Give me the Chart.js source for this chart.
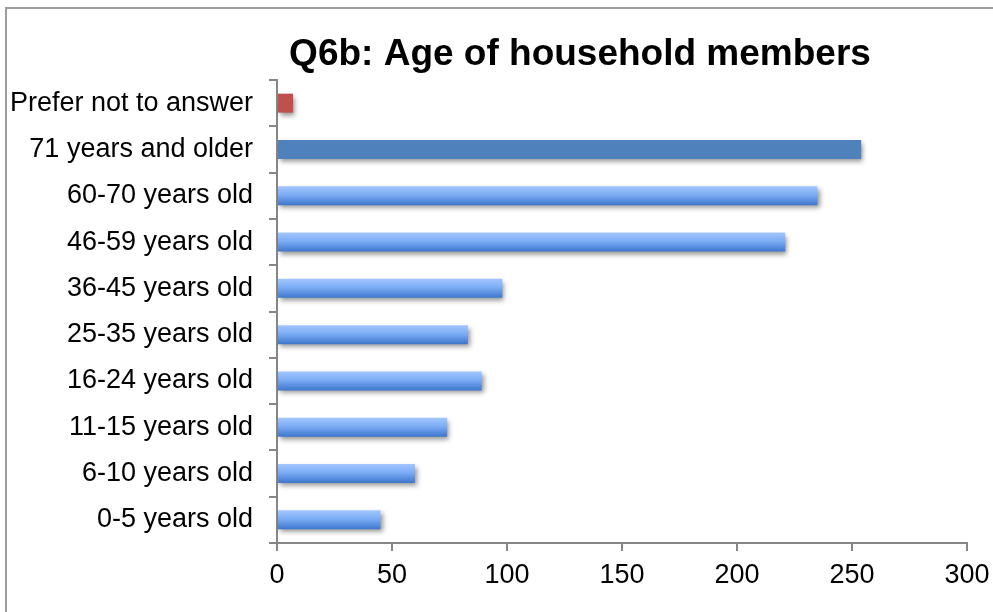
<!DOCTYPE html>
<html>
<head>
<meta charset="utf-8">
<script src="https://cdn.jsdelivr.net/npm/chart.js@4/dist/chart.umd.min.js"></script>
<style>
  html, body { margin: 0; padding: 0; background: #fff; overflow: hidden; }
  #wrap { position: relative; width: 993px; height: 612px; }
  #frame { position: absolute; left: 5px; top: 7px; width: 1200px; height: 800px;
           border-left: 2px solid #9c9c9c; border-top: 2px solid #9c9c9c; box-sizing: border-box; }
  canvas { position: absolute; left: 0; top: 0; }
</style>
</head>
<body>
<div id="wrap">
  <div id="frame"></div>
  <canvas id="c" width="993" height="612"></canvas>
</div>
<script>
const chartTitle = 'Q6b: Age of household members';
const categories = [
  'Prefer not to answer',
  '71 years and older',
  '60-70 years old',
  '46-59 years old',
  '36-45 years old',
  '25-35 years old',
  '16-24 years old',
  '11-15 years old',
  '6-10 years old',
  '0-5 years old'
];
const counts = [7, 254, 235, 221, 98, 83, 89, 74, 60, 45];
const xTicks = [0, 50, 100, 150, 200, 250, 300];

const FONT = '"Liberation Sans", Arial, sans-serif';
const AXIS_GREY = '#868686';
const BAR_FRACTION = 0.41;
const PLOT_RIGHT = 967;

// fill for each bar: red for "Prefer not to answer", flat blue for the
// oldest group, a light-to-dark vertical gradient for the rest
function barFill(context) {
  const chart = context.chart;
  const i = context.dataIndex;
  if (i === 0) return '#c0504d';
  if (i === 1) return '#4f81bd';
  const y = chart.scales && chart.scales.y;
  if (!chart.chartArea || !y) return '#6f9ee8';
  const c = y.getPixelForValue(i);
  const band = Math.abs(y.getPixelForValue(1) - y.getPixelForValue(0));
  const half = band * BAR_FRACTION / 2;
  const g = chart.ctx.createLinearGradient(0, c - half, 0, c + half);
  g.addColorStop(0, '#a2c7ff');
  g.addColorStop(0.45, '#7cacf5');
  g.addColorStop(1, '#3d76cc');
  return g;
}

// soft drop shadow under the bars
const barShadow = {
  id: 'barShadow',
  beforeDatasetsDraw(chart) {
    const ctx = chart.ctx;
    ctx.save();
    ctx.shadowColor = 'rgba(0,0,0,0.42)';
    ctx.shadowBlur = 5;
    ctx.shadowOffsetX = 2;
    ctx.shadowOffsetY = 3;
  },
  afterDatasetsDraw(chart) {
    chart.ctx.restore();
  }
};

// heading drawn above the plot
const heading = {
  id: 'heading',
  afterDraw(chart, args, opts) {
    const ctx = chart.ctx;
    ctx.save();
    ctx.font = 'bold 37px ' + FONT;
    ctx.fillStyle = '#000';
    ctx.textAlign = 'center';
    ctx.textBaseline = 'middle';
    ctx.fillText(opts.text, opts.x, opts.y);
    ctx.restore();
  }
};

new Chart(document.getElementById('c'), {
  type: 'bar',
  data: {
    labels: categories,
    datasets: [{
      data: counts,
      backgroundColor: barFill,
      borderWidth: 0,
      barPercentage: BAR_FRACTION,
      categoryPercentage: 1.0
    }]
  },
  options: {
    indexAxis: 'y',
    responsive: false,
    animation: false,
    layout: { padding: { left: 0, top: 80, right: 993 - PLOT_RIGHT, bottom: 0 } },
    plugins: {
      legend: { display: false },
      tooltip: { enabled: false },
      title: { display: false },
      heading: { text: chartTitle, x: 580, y: 55 }
    },
    scales: {
      x: {
        min: xTicks[0],
        max: xTicks[xTicks.length - 1],
        afterBuildTicks(scale) { scale.ticks = xTicks.map(v => ({ value: v })); },
        afterFit(scale) { scale.height = 69; scale.paddingRight = 0; scale.paddingLeft = 0; },
        border: { display: true, color: AXIS_GREY, width: 2 },
        grid: { drawOnChartArea: false, drawTicks: true, tickLength: 8, color: AXIS_GREY, lineWidth: 2 },
        ticks: { color: '#000', font: { family: FONT, size: 27 }, padding: 8, maxRotation: 0 }
      },
      y: {
        afterFit(scale) { scale.width = 277; },
        border: { display: true, color: AXIS_GREY, width: 2 },
        grid: { drawOnChartArea: false, drawTicks: true, tickLength: 8, color: AXIS_GREY, lineWidth: 2, offset: true },
        ticks: { color: '#000', font: { family: FONT, size: 27 }, padding: 16 }
      }
    }
  },
  plugins: [barShadow, heading]
});
</script>
</body>
</html>
